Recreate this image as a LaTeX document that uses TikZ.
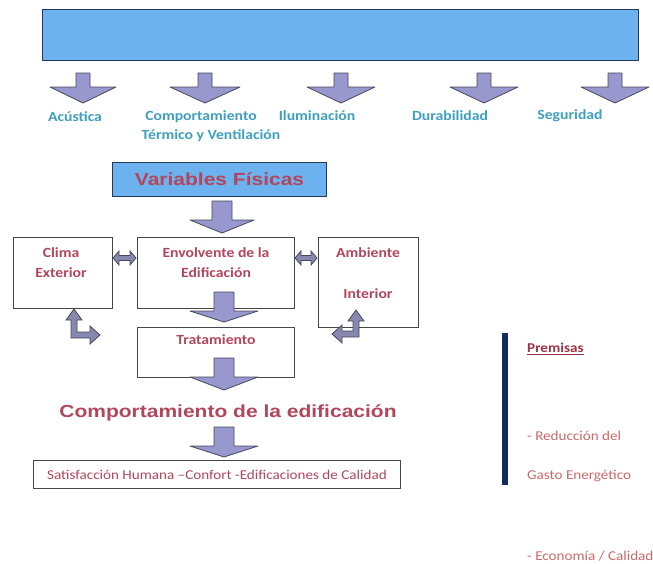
\documentclass[tikz,border=0pt]{standalone}
\usepackage{graphicx}
\usepackage{fontspec}
\setmainfont{Carlito}
\newfontfamily\arialf{Liberation Sans}
\definecolor{bluefill}{RGB}{108,178,238}
\definecolor{navyline}{RGB}{40,55,85}
\definecolor{tealtxt}{RGB}{62,160,192}
\definecolor{redtxt}{RGB}{178,70,92}
\definecolor{lightred}{RGB}{205,105,105}
\definecolor{premred}{RGB}{160,50,70}
\definecolor{arrfill}{RGB}{152,152,206}
\definecolor{arrline}{RGB}{72,72,92}
\definecolor{smallfill}{RGB}{135,135,175}
\definecolor{boxline}{RGB}{70,70,70}
\definecolor{barnavy}{RGB}{15,45,95}
\newcommand\sx[1]{\scalebox{1.12}[1]{#1}}
\newcommand\sxb[1]{\scalebox{1.2}[1]{#1}}
\newcommand\darr[6]{% cx, top, shaft half, head base, head half, tip
  \draw[blk] ({#1-#3},#2) -- ({#1+#3},#2) -- ({#1+#3},#4) -- ({#1+#5},#4) -- (#1,#6)
    -- ({#1-#5},#4) -- ({#1-#3},#4) -- cycle;}
\newcommand\harr[4]{% xleft, xright, y, head length
  \draw[sblk] (#1,#3) -- ({#1+#4},{#3-7}) -- ({#1+#4},{#3-2.5}) -- ({#2-#4},{#3-2.5}) -- ({#2-#4},{#3-7})
    -- (#2,#3) -- ({#2-#4},{#3+7}) -- ({#2-#4},{#3+2.5}) -- ({#1+#4},{#3+2.5}) -- ({#1+#4},{#3+7}) -- cycle;}
\tikzset{
  lbl/.style={text=tealtxt, font=\fontsize{14}{16}\selectfont\bfseries, inner sep=0pt},
  boxtxt/.style={text=redtxt, font=\fontsize{14}{16}\selectfont\bfseries, inner sep=0pt},
  bigtxt/.style={text=redtxt, font=\arialf\fontsize{17.5}{20}\selectfont\bfseries, inner sep=0pt},
  premtxt/.style={text=lightred, font=\fontsize{13.5}{15}\selectfont, inner sep=0pt, anchor=west},
  wbox/.style={draw=boxline, line width=0.9pt, fill=white, inner sep=0pt, anchor=north west},
  bbox/.style={draw=navyline, line width=1.1pt, fill=bluefill, inner sep=0pt, anchor=north west},
  blk/.style={draw=arrline, line width=0.8pt, fill=arrfill, line join=round},
  sblk/.style={draw=arrline, line width=0.8pt, fill=smallfill, line join=miter},
}
\begin{document}
\begin{tikzpicture}[x=1pt,y=-1pt]
\useasboundingbox[fill=white] (0,0) rectangle (653,563);
% top blue box
\node[bbox, minimum width=596pt, minimum height=51pt] (top) at (42,9) {};
% top row arrows
\darr{83}{73}{7}{87}{33}{103}
\darr{205}{73}{7}{87}{35}{103}
\darr{341}{73}{7}{87}{34}{103}
\darr{484}{73}{7}{87}{34}{103}
\darr{615}{73}{7}{87}{34}{103}
% top labels
\node[lbl] (acu) at (75,117) {\sx{Acústica}};
\node[lbl] (comp1) at (201,117) {\sx{Comportamiento}};
\node[lbl] (comp2) at (211,136) {\sx{Térmico y Ventilación}};
\node[lbl] (ilu) at (317,116) {\sx{Iluminación}};
\node[lbl] (dur) at (450,116) {\sx{Durabilidad}};
\node[lbl] (seg) at (570,116) {\sx{Seguridad}};
% Variables Fisicas
\node[bbox, minimum width=214pt, minimum height=34pt] (var) at (112,162) {};
\node[bigtxt] (vartxt) at (var.center) {\sxb{Variables Físicas}};
\darr{222}{201}{10}{220}{32}{233}
% boxes
\node[wbox, minimum width=99pt, minimum height=71pt] (clima) at (13,237) {};
\node[wbox, minimum width=157pt, minimum height=71pt] (env) at (137,237) {};
\node[wbox, minimum width=100pt, minimum height=90pt] (amb) at (318,237) {};
\node[wbox, minimum width=157pt, minimum height=50pt] (trat) at (137,327) {};
\node[boxtxt] (clima1) at (61,253) {\sx{Clima}};
\node[boxtxt] (clima2) at (61,273) {\sx{Exterior}};
\node[boxtxt] (env1) at (216,253) {\sx{Envolvente de la}};
\node[boxtxt] (env2) at (216,273) {\sx{Edificación}};
\node[boxtxt] (amb1) at (368,253) {\sx{Ambiente}};
\node[boxtxt] (amb2) at (368,294) {\sx{Interior}};
\node[boxtxt] (trat1) at (216,340) {\sx{Tratamiento}};
% double arrows
\harr{113}{136}{258}{6}
\harr{295}{317}{258}{6}
% arrow env -> trat
\darr{224}{292}{10}{311}{34}{322}
% bent arrows
\draw[sblk] (74,309) -- (82,320) -- (77,320) -- (77,332) -- (90,332) -- (90,326) -- (100,335)
  -- (90,344) -- (90,338) -- (71,338) -- (71,320) -- (66,320) -- cycle;
\draw[sblk] (356,310) -- (364,321) -- (359,321) -- (359,337) -- (342,337) -- (342,343) -- (332,334)
  -- (342,325) -- (342,331) -- (353,331) -- (353,321) -- (348,321) -- cycle;
% arrow trat -> comportamiento
\darr{224}{358}{10}{377}{34}{390}
\node[bigtxt] (compor) at (228,413) {\sxb{Comportamiento de la edificación}};
\darr{224}{427}{10}{446}{34}{457}
% satisfaction
\node[wbox, minimum width=367pt, minimum height=28pt] (sat) at (33,460) {};
\node[text=redtxt, font=\fontsize{13.5}{15}\selectfont, inner sep=0pt] (sattxt) at (sat.center)
  {\sx{Satisfacción Humana –Confort -Edificaciones de Calidad}};
% premisas
\fill[barnavy] (502,333) rectangle (508,485);
\node[premtxt, text=premred, font=\fontsize{13.5}{15}\selectfont\bfseries] (prem) at (527,349) {\sx{\underline{Premisas}}};
\node[premtxt] (red1) at (527,436) {\sx{- Reducción del}};
\node[premtxt] (red2) at (527,476) {\sx{Gasto Energético}};
\node[premtxt] (eco) at (527,556) {\sx{- Economía / Calidad}};
\end{tikzpicture}
\end{document}
